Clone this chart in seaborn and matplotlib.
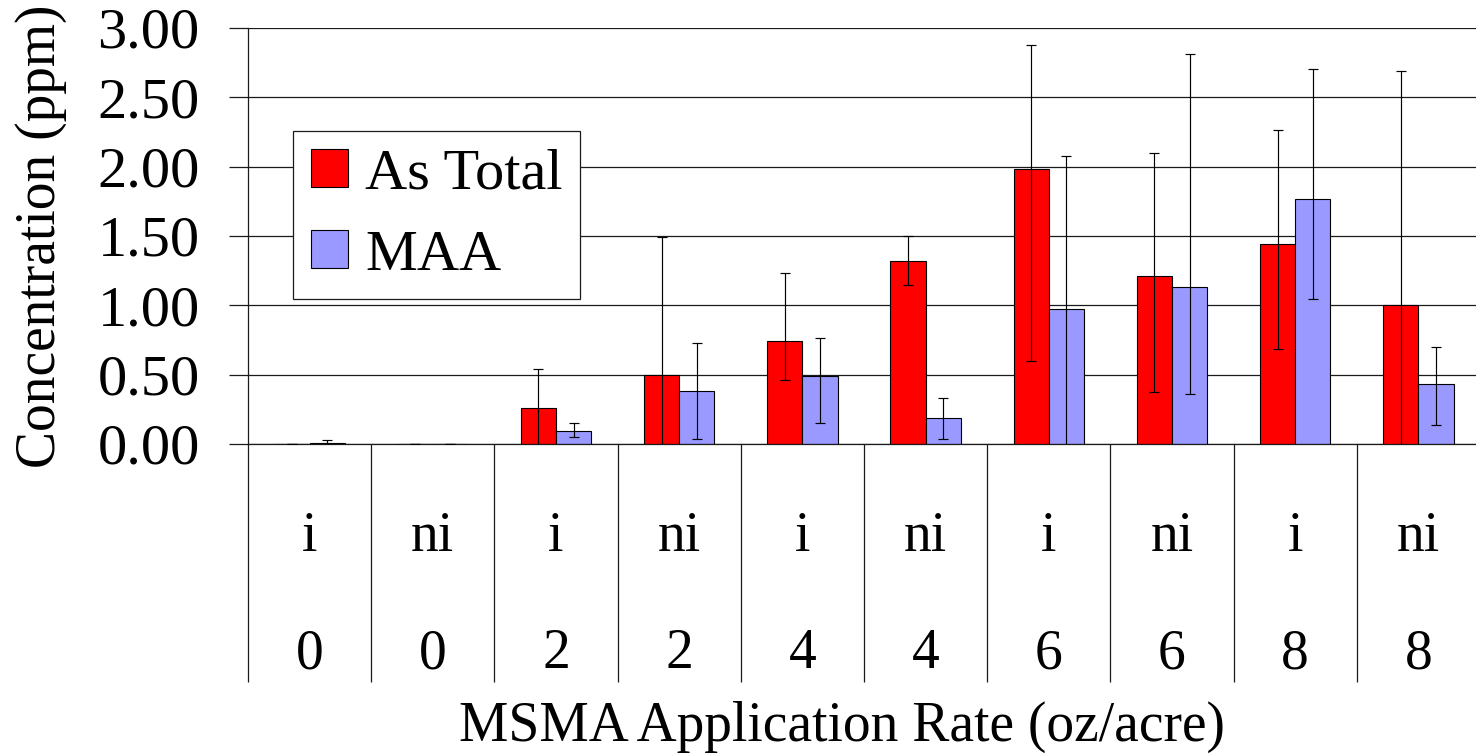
import matplotlib
matplotlib.use("Agg")
import matplotlib.pyplot as plt
import seaborn as sns
import pandas as pd
import numpy as np

# Application rate (oz/acre) and irrigation status for each treatment
rates = ["0", "0", "2", "2", "4", "4", "6", "6", "8", "8"]
irrigation = ["i", "ni", "i", "ni", "i", "ni", "i", "ni", "i", "ni"]

# Mean concentrations (ppm)
as_total = [0.00, 0.00, 0.26, 0.50, 0.74, 1.32, 1.98, 1.21, 1.44, 1.00]
maa = [0.01, 0.00, 0.095, 0.38, 0.49, 0.19, 0.97, 1.135, 1.77, 0.435]

# Error bar extents below / above the mean (ppm)
as_total_lo = [0.00, 0.00, 0.28, 0.99, 0.275, 0.175, 1.38, 0.835, 0.755, 1.69]
as_total_hi = [0.00, 0.00, 0.28, 0.99, 0.495, 0.178, 0.90, 0.888, 0.825, 1.69]
maa_lo = [0.02, 0.00, 0.044, 0.341, 0.339, 0.154, 1.11, 0.778, 0.721, 0.296]
maa_hi = [0.02, 0.00, 0.055, 0.351, 0.276, 0.144, 1.11, 1.681, 0.935, 0.262]

series_names = ["As Total", "MAA"]
series_colors = ["#FF0000", "#9999FF"]
y_ticks = [0.0, 0.5, 1.0, 1.5, 2.0, 2.5, 3.0]

keys = [f"{irr} {r}" for irr, r in zip(irrigation, rates)]
df = pd.DataFrame({
    "treatment": keys * 2,
    "series": [series_names[0]] * len(keys) + [series_names[1]] * len(keys),
    "value": as_total + maa,
})

sns.set_theme(style="white")
plt.rcParams["font.family"] = ["Liberation Serif", "DejaVu Serif"]
plt.rcParams.update({
    "text.color": "black",
    "axes.labelcolor": "black",
    "xtick.color": "black",
    "ytick.color": "black",
})

W, H = 1476, 754
fig = plt.figure(figsize=(W / 100, H / 100), dpi=100)
ax = fig.add_axes([248 / W, (H - 444) / H, 1232 / W, 416 / H])

sns.barplot(data=df, x="treatment", y="value", hue="series",
            hue_order=series_names, palette=series_colors, order=keys,
            width=0.57, errorbar=None, edgecolor="black", linewidth=0.8,
            saturation=1, ax=ax, zorder=2)

# Asymmetric error bars centred on each bar
errs = [(as_total, as_total_lo, as_total_hi), (maa, maa_lo, maa_hi)]
for cont, (vals, lo, hi) in zip(ax.containers, errs):
    xs = [p.get_x() + p.get_width() / 2 for p in cont.patches]
    ax.errorbar(xs, vals, yerr=[lo, hi], fmt="none", ecolor="black",
                elinewidth=0.85, capsize=3.6, capthick=0.85, zorder=3)

line_col = "#1a1a1a"
ax.set_ylim(0, 3.0)
ax.set_xlim(-0.5, len(keys) - 0.5)
ax.set_yticks(y_ticks)
ax.set_yticklabels([f"{v:.2f}" for v in y_ticks])
ax.yaxis.grid(True, color=line_col, linewidth=0.9, zorder=0)
ax.set_axisbelow(True)
ax.tick_params(axis="y", direction="out", length=13.7, width=0.9,
               color=line_col, pad=21, labelsize=42, left=True,
               labelcolor="black")
ax.tick_params(axis="x", bottom=False, labelbottom=False)
ax.set_xlabel("")
ax.set_ylabel("Concentration (ppm)", fontsize=40, color="black")
ax.yaxis.set_label_coords(-0.147, 0.5)

for side in ["top", "right"]:
    ax.spines[side].set_visible(False)
for side in ["left", "bottom"]:
    ax.spines[side].set_color(line_col)
    ax.spines[side].set_linewidth(0.9)

# Category table below the axis: group dividers and two label rows
xt = ax.get_xaxis_transform()
bounds = np.arange(len(keys) + 1) - 0.5
ax.vlines(bounds, -0.5714, 0, transform=xt, colors=line_col,
          linewidth=0.9, clip_on=False)
for i, (irr, r) in enumerate(zip(irrigation, rates)):
    ax.text(i, -0.2565, irr, transform=xt, ha="center", va="baseline",
            fontsize=40, color="black")
    ax.text(i, -0.5385, r, transform=xt, ha="center", va="baseline",
            fontsize=40, color="black")

fig.text(842 / W, (H - 741) / H, "MSMA Application Rate (oz/acre)",
         ha="center", va="baseline", fontsize=40, color="black")

leg = ax.legend(loc="upper left", bbox_to_anchor=(293 / W, 1 - 131 / H),
                bbox_transform=fig.transFigure, borderaxespad=0,
                fontsize=42, frameon=True, fancybox=False,
                handlelength=0.64, handleheight=0.62, handletextpad=0.3,
                labelspacing=0.5, borderpad=0.3, title=None)
leg.get_frame().set_edgecolor(line_col)
leg.get_frame().set_linewidth(0.9)
leg.get_frame().set_alpha(1)
for t in leg.get_texts():
    t.set_color("black")

fig.savefig("out.png", dpi=100)
